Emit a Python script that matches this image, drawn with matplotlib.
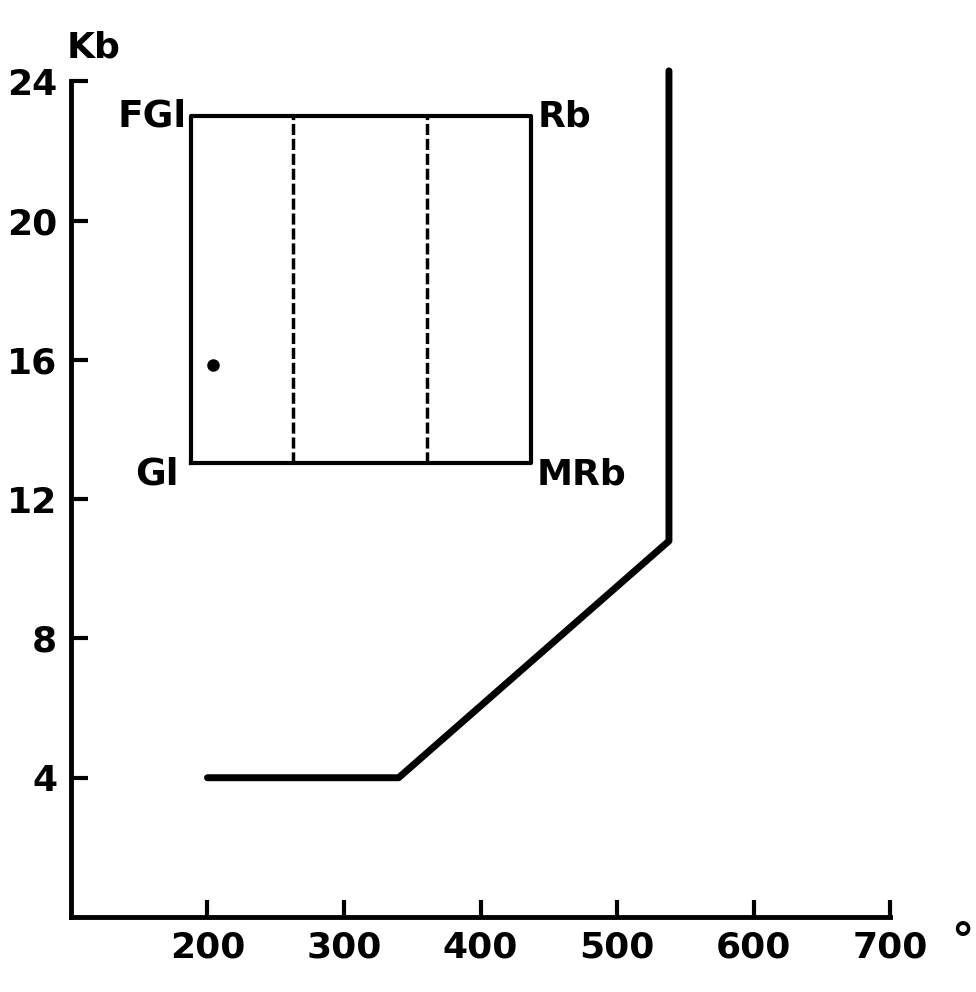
import matplotlib
matplotlib.use("Agg")
import matplotlib.pyplot as plt

# boundary curve
curve_t = [200, 340, 538, 538]
curve_kb = [4, 4, 10.8, 24.3]

# inset box corners and dashed dividers
box_t = [188, 437]
box_kb = [13.05, 23.0]
divider_t = [263, 361]
point_t = [204]
point_kb = [15.85]
corner_labels = ["FGl", "Rb", "Gl", "MRb"]

xticks = [200, 300, 400, 500, 600, 700]
yticks = [4, 8, 12, 16, 20, 24]

plt.rcParams["font.family"] = ["DejaVu Sans"]
plt.rcParams["font.weight"] = "bold"

fig = plt.figure(figsize=(9.76, 9.92), dpi=100)
ax = fig.add_axes([0.0727, 0.0756, 0.912 - 0.0727, 0.918 - 0.0756])
ax.set_xlim(100, 700)
ax.set_ylim(0, 24)

ax.plot(curve_t, curve_kb, color="k", lw=5, solid_capstyle="round",
        solid_joinstyle="round", clip_on=False)

x0, x1 = box_t
y0, y1 = box_kb
ax.plot([x0, x1, x1, x0, x0], [y0, y0, y1, y1, y0], color="k", lw=3)
for xd in divider_t:
    ax.plot([xd, xd], [y0, y1], color="k", lw=2.5, ls=(0, (3.2, 1.1)))
ax.plot(point_t, point_kb, "o", color="k", ms=8)

fs = 26
ax.text(x0 - 3, y1, corner_labels[0], ha="right", va="center", fontsize=fs + 1, fontweight="bold")
ax.text(x1 + 5, y1, corner_labels[1], ha="left", va="center", fontsize=fs, fontweight="bold")
ax.text(x0 - 9, y0 - 0.35, corner_labels[2], ha="right", va="center", fontsize=fs + 1, fontweight="bold")
ax.text(x1 + 4, y0 - 0.35, corner_labels[3], ha="left", va="center", fontsize=fs, fontweight="bold")

for s in ["top", "right"]:
    ax.spines[s].set_visible(False)
for s in ["left", "bottom"]:
    ax.spines[s].set_linewidth(3.5)
ax.spines["left"].set_bounds(0, 24)
ax.spines["bottom"].set_bounds(100, 700)

ax.set_xticks(xticks)
ax.set_yticks(yticks)
ax.tick_params(direction="in", length=12, width=3, labelsize=fs, pad=10)
for lab in ax.get_xticklabels() + ax.get_yticklabels():
    lab.set_fontweight("bold")

ax.text(-0.005, 1.04, "Kb", transform=ax.transAxes, ha="left", va="center",
        fontsize=fs, fontweight="bold")
ax.text(1.088, -0.03, "°", transform=ax.transAxes, ha="center", va="center",
        fontsize=fs + 6, fontweight="bold")

fig.savefig("out.png", dpi=100)
